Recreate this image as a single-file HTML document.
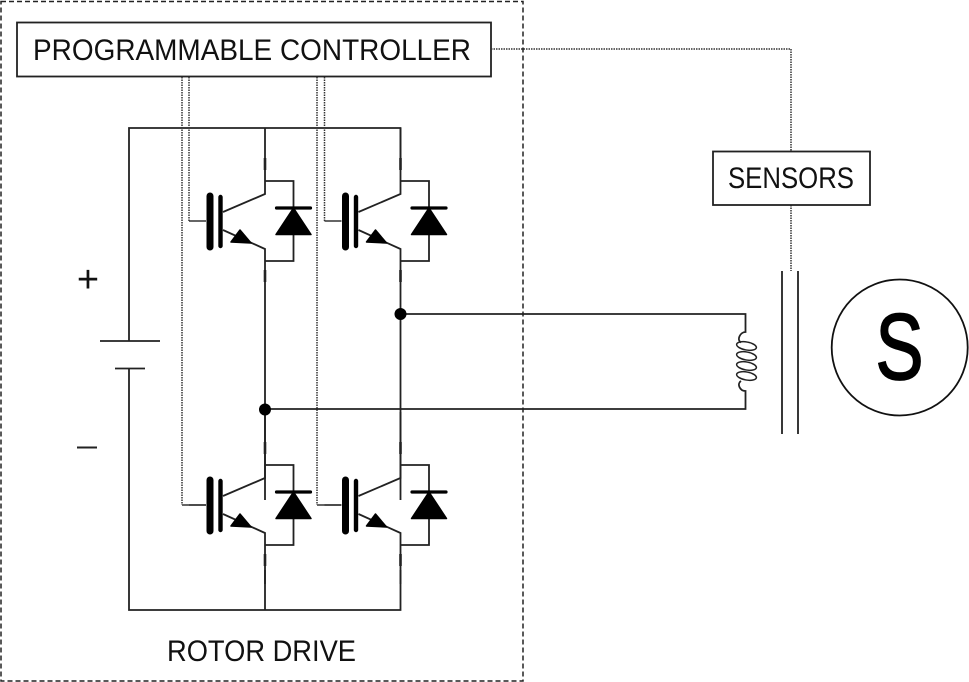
<!DOCTYPE html>
<html>
<head>
<meta charset="utf-8">
<style>
html,body{margin:0;padding:0;background:#fff;width:969px;height:682px;overflow:hidden}
svg{display:block}
text{font-family:"Liberation Sans",sans-serif;fill:#111}
</style>
</head>
<body>
<svg width="969" height="682" viewBox="0 0 969 682" xmlns="http://www.w3.org/2000/svg">
<defs>
<g id="igbt">
  <path d="M265 128V194L223 212M223 230L265 249V300M265 181H293.500V261H265" fill="none" stroke="#222" stroke-width="1.800"/>
  <path d="M265 158V170M265 270V282" stroke="#222" stroke-width="2.600"/>
  <line x1="210" y1="196" x2="210" y2="247" stroke="#000" stroke-width="7" stroke-linecap="round"/>
  <line x1="220.500" y1="197" x2="220.500" y2="246" stroke="#000" stroke-width="4.400" stroke-linecap="round"/>
  <path d="M231 242L240 230L251 243Z" fill="#000" stroke="#000" stroke-width="1.500" stroke-linejoin="round"/>
  <path d="M293.500 208L311 234.500H276Z" fill="#000" stroke="#000" stroke-width="1.500" stroke-linejoin="round"/>
  <line x1="276.500" y1="208" x2="310.500" y2="208" stroke="#000" stroke-width="3.200" stroke-linecap="round"/>
  <line x1="189" y1="221" x2="206" y2="221" stroke="#333" stroke-width="1.500"/>
</g>
</defs>
<rect width="969" height="682" fill="#fff"/>

<!-- outer dashed -->
<rect x="1" y="1.500" width="522" height="679.500" fill="none" stroke="#222" stroke-width="1.500" stroke-dasharray="5 3"/>

<!-- rails -->
<path d="M129 341V128H400.500V160M129 368V610H400.500V570M265 570V610" fill="none" stroke="#222" stroke-width="1.800"/>
<path d="M265 300V500M400.500 300V500" fill="none" stroke="#222" stroke-width="1.800"/>

<!-- transistors -->
<use href="#igbt"/>
<use href="#igbt" x="135.500"/>
<use href="#igbt" y="284"/>
<use href="#igbt" x="135.500" y="284"/>
<path d="M182 505H206M317 505H341" stroke="#333" stroke-width="1.500" fill="none"/>

<!-- gate dotted -->
<path d="M189 77V221M182 77V505M324.500 77V221M317 77V505" fill="none" stroke="#333" stroke-width="1.500" stroke-dasharray="1.500 1"/>

<!-- controller -->
<rect x="17" y="22.500" width="474" height="54" fill="#fff" stroke="#222" stroke-width="1.800"/>
<text x="33" y="60" font-size="30" textLength="438" lengthAdjust="spacingAndGlyphs">PROGRAMMABLE CONTROLLER</text>

<!-- sensors -->
<path d="M491 49H791V151M791 205V271" fill="none" stroke="#333" stroke-width="1.500" stroke-dasharray="1.500 1"/>
<rect x="713" y="151.500" width="157" height="53.500" fill="#fff" stroke="#222" stroke-width="1.800"/>
<text x="728" y="188" font-size="30" textLength="126" lengthAdjust="spacingAndGlyphs">SENSORS</text>

<!-- battery -->
<path d="M100 341H160M115 368.500H145" stroke="#222" stroke-width="1.800" fill="none"/>
<text x="88" y="292" font-size="38" text-anchor="middle">+</text>
<path d="M77 447.500H97" stroke="#222" stroke-width="2"/>

<!-- output wires -->
<path d="M400.500 314H745.500V332C740 332 736.500 340 741 342.500M265 409H745.500V391C740 391 736.500 384 741 381" fill="none" stroke="#222" stroke-width="1.800"/>
<circle cx="400.500" cy="314" r="6" fill="#000"/>
<circle cx="265" cy="409.500" r="6" fill="#000"/>

<!-- coil -->
<g fill="none" stroke="#222" stroke-width="1.500">
  <ellipse cx="746.500" cy="346" rx="10" ry="4" transform="rotate(10 746.500 346)"/>
  <ellipse cx="746.500" cy="356" rx="10" ry="4" transform="rotate(10 746.500 356)"/>
  <ellipse cx="746.500" cy="366" rx="10" ry="4" transform="rotate(10 746.500 366)"/>
  <ellipse cx="746.500" cy="376" rx="10" ry="4" transform="rotate(10 746.500 376)"/>
</g>

<!-- core -->
<path d="M782 271V434M798 271V434" stroke="#222" stroke-width="1.800" fill="none"/>

<!-- motor -->
<circle cx="899.700" cy="347.500" r="68" fill="#fff" stroke="#111" stroke-width="1.800"/>
<text x="875.500" y="379" font-size="94" textLength="48" lengthAdjust="spacingAndGlyphs" style="fill:#000;stroke:#000;stroke-width:1.800">S</text>

<!-- rotor drive -->
<text x="167" y="661" font-size="30" textLength="189" lengthAdjust="spacingAndGlyphs">ROTOR DRIVE</text>
</svg>
</body>
</html>
